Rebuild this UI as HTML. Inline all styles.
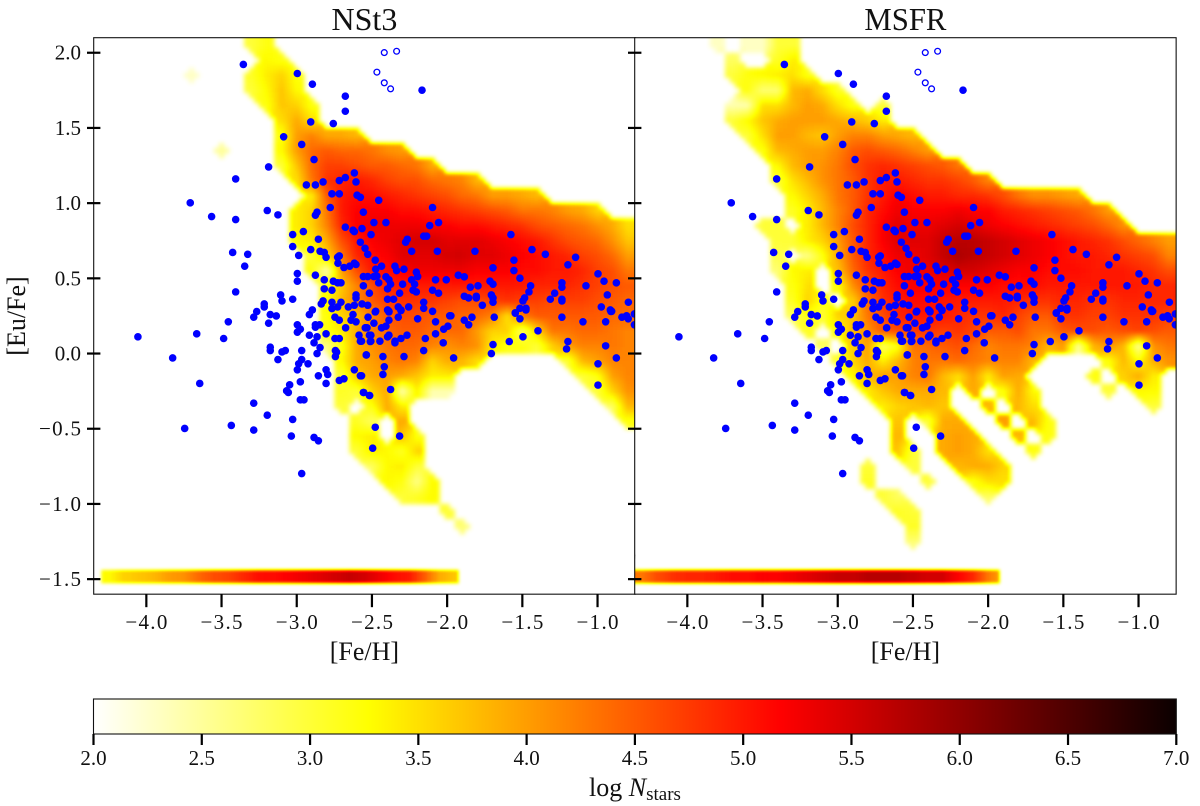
<!DOCTYPE html>
<html lang="en">
<head>
<meta charset="utf-8">
<title>NSt3 and MSFR [Eu/Fe] vs [Fe/H]</title>
<style>
html,body{margin:0;padding:0;background:#fff;width:1200px;height:806px;overflow:hidden}
svg{display:block}
text{font-family:"Liberation Serif",serif;fill:#111}
</style>
</head>
<body>
<svg id="chart" xmlns="http://www.w3.org/2000/svg" width="1200" height="806" viewBox="0 0 1200 806">
<defs id="defs"></defs>
</svg>
<script>
// ---------- tick labels ----------
const xTicks = [-4.0, -3.5, -3.0, -2.5, -2.0, -1.5, -1.0];
const yTicks = [2.0, 1.5, 1.0, 0.5, 0.0, -0.5, -1.0, -1.5];
const colorTicks = [2.0, 2.5, 3.0, 3.5, 4.0, 4.5, 5.0, 5.5, 6.0, 6.5, 7.0];
const panelNames = ["NSt3", "MSFR"];

// ---------- observed stars: [Fe/H], [Eu/Fe] ----------
const openStars = [[-2.418,2.001],[-2.336,2.010],[-2.467,1.871],[-2.418,1.800],[-2.376,1.760]];
const stars = [
[-3.355,1.922],[-2.996,1.862],[-2.896,1.791],[-2.677,1.711],[-2.677,1.611],[-2.907,1.540],[-2.757,1.529],[-3.087,1.441],
[-2.967,1.390],[-2.885,1.290],[-3.187,1.241],[-3.406,1.161],[-2.617,1.201],[-2.677,1.170],[-2.606,1.141],[-2.717,1.150],
[-2.825,1.141],[-2.876,1.121],[-2.936,1.121],[-2.766,1.062],[-2.717,1.062],[-2.599,1.053],[-2.577,1.039],[-3.708,1.002],
[-2.777,0.971],[-2.557,0.940],[-3.196,0.951],[-3.125,0.922],[-2.865,0.940],[-2.876,0.920],[-3.566,0.911],[-3.406,0.891],
[-3.027,0.791],[-2.956,0.811],[-2.677,0.840],[-2.626,0.820],[-2.617,0.811],[-2.566,0.831],[-2.856,0.760],[-2.577,0.740],
[-3.027,0.711],[-2.907,0.691],[-2.546,0.700],[-2.528,0.660],[-2.845,0.680],[-2.817,0.672],[-2.805,0.640],[-2.987,0.652],
[-3.426,0.672],[-3.326,0.660],[-2.717,0.649],[-2.728,0.640],[-2.726,0.601],[-3.346,0.581],[-2.686,0.572],[-2.648,0.581],
[-2.617,0.601],[-2.606,0.592],[-2.996,0.532],[-2.876,0.521],[-2.996,0.481],[-2.817,0.490],[-2.757,0.481],[-2.728,0.470],
[-2.706,0.470],[-2.557,0.512],[-2.528,0.512],[-2.557,0.450],[-2.817,0.430],[-2.766,0.421],[-3.406,0.410],[-3.107,0.390],
[-3.098,0.350],[-3.027,0.361],[-2.606,0.390],[-2.606,0.370],[-2.517,0.401],[-2.825,0.350],[-2.837,0.330],[-2.766,0.341],
[-2.706,0.341],[-2.728,0.310],[-2.766,0.299],[-2.657,0.310],[-2.617,0.321],[-2.566,0.330],[-2.528,0.321],[-3.216,0.330],
[-3.216,0.310],[-3.266,0.279],[-3.176,0.259],[-3.136,0.250],[-3.286,0.242],[-2.896,0.290],[-2.916,0.259],[-2.746,0.242],
[-2.626,0.259],[-3.455,0.211],[-3.187,0.202],[-2.996,0.191],[-2.976,0.162],[-2.996,0.142],[-2.876,0.191],[-2.848,0.191],
[-2.876,0.175],[-2.805,0.131],[-2.865,0.111],[-2.916,0.122],[-4.056,0.111],[-3.665,0.131],[-3.486,0.100],[-2.885,0.071],
[-2.845,0.040],[-3.176,0.042],[-3.176,0.020],[-3.098,0.011],[-3.076,0.020],[-2.967,0.020],[-2.865,0.000],[-3.125,-0.040],
[-2.967,-0.040],[-2.987,-0.068],[-2.925,-0.068],[-2.996,-0.108],[-3.825,-0.029],[-2.743,0.020],[-2.735,0.009],[-2.743,-0.020],
[-2.746,0.100],[-2.717,0.100],[-2.717,0.222],[-2.675,0.171],[-2.639,0.222],[-2.606,0.211],[-2.544,0.171],[-2.586,0.122],
[-2.577,0.082],[-2.517,0.122],[-2.511,0.080],[-2.537,-0.009],[-2.805,-0.108],[-2.794,-0.139],[-2.856,-0.148],[-2.805,-0.199],
[-2.717,-0.179],[-2.686,-0.168],[-2.617,-0.108],[-2.577,-0.148],[-2.557,-0.259],[-2.517,-0.279],[-3.645,-0.199],[-2.976,-0.188],
[-3.047,-0.208],[-3.067,-0.248],[-3.056,-0.259],[-2.976,-0.308],[-2.952,-0.308],[-3.286,-0.330],[-3.196,-0.410],[-3.027,-0.438],
[-3.435,-0.478],[-3.745,-0.498],[-3.286,-0.509],[-3.036,-0.549],[-2.885,-0.558],[-2.856,-0.580],[-2.967,-0.798],[-2.495,-0.629],
[-2.478,0.277],[-2.526,0.242],[-2.387,0.277],[-2.307,0.286],[-2.487,0.202],[-2.387,0.222],[-2.325,0.242],[-2.407,0.182],
[-2.436,0.171],[-2.542,0.171],[-2.533,0.171],[-2.196,0.231],[-2.077,0.211],[-1.995,0.182],[-2.023,0.162],[-2.077,0.131],
[-2.145,0.100],[-2.267,0.122],[-2.307,0.100],[-2.387,0.122],[-2.396,0.111],[-2.447,0.082],[-2.347,0.082],[-2.347,0.071],
[-2.507,0.122],[-2.507,0.082],[-2.569,0.082],[-2.026,0.071],[-2.156,0.020],[-2.538,-0.009],[-2.427,-0.020],[-2.287,-0.020],
[-1.957,-0.029],[-2.418,-0.088],[-2.427,-0.139],[-2.569,-0.148],[-2.376,-0.239],[-2.555,-0.259],[-2.515,-0.279],[-2.478,-0.490],
[-2.316,-0.549],[-1.983,0.251],[-1.975,0.251],[-1.886,0.222],[-1.857,0.191],[-1.835,0.242],[-1.687,0.242],[-1.547,0.271],
[-1.476,0.290],[-1.516,0.231],[-1.396,0.151],[-1.587,0.080],[-1.496,0.111],[-1.695,0.060],[-1.706,0.000],[-1.237,0.242],
[-1.097,0.211],[-0.946,0.211],[-1.197,0.080],[-1.206,0.031],[-0.946,0.051],[-0.875,-0.029],[-0.997,-0.068],[-0.997,-0.210],
[-0.796,0.231],[-0.807,0.251],[-0.838,0.242],[-0.911,0.280],[-0.755,0.191],[-2.167,1.751],[-2.455,1.019],[-2.097,0.971],
[-2.487,0.871],[-2.407,0.871],[-2.116,0.851],[-2.057,0.871],[-2.506,0.791],[-2.156,0.780],[-2.136,0.780],[-1.576,0.791],
[-2.265,0.760],[-2.276,0.740],[-2.236,0.680],[-2.065,0.680],[-1.815,0.680],[-1.436,0.691],[-1.347,0.660],[-2.478,0.621],
[-2.436,0.581],[-2.475,0.561],[-2.347,0.581],[-2.336,0.552],[-2.287,0.561],[-2.205,0.541],[-2.196,0.512],[-1.556,0.621],
[-1.556,0.552],[-1.695,0.570],[-1.146,0.640],[-1.197,0.590],[-1.516,0.501],[-0.997,0.530],[-0.957,0.481],[-0.875,0.470],
[-1.926,0.521],[-1.886,0.510],[-2.077,0.490],[-2.006,0.490],[-2.236,0.490],[-2.487,0.512],[-2.467,0.515],[-2.407,0.510],
[-2.387,0.490],[-2.455,0.470],[-2.376,0.461],[-2.216,0.461],[-2.296,0.461],[-1.715,0.481],[-1.695,0.461],[-1.846,0.441],
[-1.795,0.450],[-2.396,0.430],[-1.445,0.450],[-1.456,0.410],[-1.237,0.470],[-1.237,0.441],[-1.077,0.450],[-2.227,0.421],
[-2.205,0.410],[-2.097,0.421],[-2.057,0.401],[-2.316,0.401],[-1.285,0.401],[-0.935,0.390],[-1.706,0.390],[-1.695,0.370],
[-1.695,0.341],[-1.886,0.381],[-1.857,0.370],[-1.806,0.381],[-1.806,0.370],[-1.485,0.370],[-1.496,0.350],[-1.314,0.361],
[-1.237,0.361],[-1.237,0.350],[-2.396,0.361],[-2.356,0.361],[-0.795,0.341],[-1.766,0.321],[-2.256,0.310],[-2.325,0.310],
[-2.307,0.290],[-2.156,0.341],[-2.156,0.301],[-2.097,0.281],[-2.396,0.290],[-2.387,0.281],[-2.475,0.281],[-0.975,0.310],
[-0.915,0.290],[-0.906,0.281],[-1.547,0.268],[-1.516,0.301],[-1.476,0.301],[-0.755,0.263]
];

// ---------- heatmap bins (0.1 dex): column 0 is [Fe/H] = -4.30, row 0 is [Eu/Fe] = 2.05 ----------
const binFeH0 = -4.30, binEuFe0 = 2.05, binStep = 0.1, binCols = 36, binRows = 37;

// log N per cell; each row starts at the column given in the matching *Start array; 0 = empty
const nst3Start = [10,11,6,10,11,12,12,8,12,13,14,13,13,13,14,14,15,15,15,15,15,16,16,16,16,17,17,17,18,19,20,23,24];
const nst3Cells = [
[3.0,3.2],
[3.3,3.2],
[2.3,0,0,0,3.1,3.4,3.6,3.2],
[3.0,3.3,3.7,3.3],
[3.2,3.7,3.6,3.2],
[3.5,3.9,3.5],
[3.2,4.0,4.2,3.9,3.9,3.8],
[2.5,0,0,0,3.3,4.0,4.4,4.5,4.4,4.4,4.3,4.1,4.0],
[3.0,3.7,4.4,4.7,4.7,4.6,4.5,4.5,4.4,4.3,3.9],
[3.5,4.3,4.8,4.9,5.0,4.9,4.7,4.6,4.6,4.4,4.3,4.2,3.8],
[3.4,4.5,5.0,5.1,5.1,5.0,4.9,4.8,4.7,4.6,4.4,4.3,4.0,4.0,3.9,3.8],
[3.4,3.6,4.3,5.0,5.2,5.2,5.2,5.1,5.1,5.0,4.9,4.8,4.7,4.6,4.5,4.3,4.3,4.2,4.0,3.9,3.6],
[3.4,3.6,4.2,4.9,5.2,5.3,5.3,5.3,5.3,5.2,5.2,5.1,5.1,5.0,4.9,4.8,4.6,4.5,4.4,4.3,4.1,3.9,3.5],
[3.3,3.4,3.9,4.6,5.0,5.2,5.3,5.4,5.5,5.5,5.4,5.4,5.4,5.3,5.2,5.1,5.0,4.8,4.6,4.5,4.4,4.1,3.7],
[3.0,3.6,4.3,4.9,5.1,5.2,5.4,5.4,5.4,5.5,5.5,5.4,5.4,5.3,5.2,5.1,5.0,4.9,4.7,4.6,4.4,4.0],
[3.2,2.4,4.0,4.6,5.0,5.1,5.2,5.3,5.3,5.3,5.3,5.2,5.2,5.2,5.1,5.1,5.0,5.0,4.9,4.7,4.6,4.3],
[3.2,3.7,4.2,4.6,4.9,5.0,5.0,5.0,5.0,5.0,5.0,5.0,5.0,5.0,4.9,4.9,4.9,4.8,4.7,4.6,4.5],
[3.3,3.8,4.2,4.5,4.7,4.8,4.8,4.8,4.7,4.6,4.6,4.7,4.8,4.7,4.7,4.6,4.7,4.7,4.6,4.5,4.4],
[3.2,3.6,3.8,4.2,4.5,4.6,4.6,4.5,4.5,4.4,4.4,4.2,3.5,4.3,4.5,4.5,4.5,4.5,4.5,4.4,4.4],
[3.2,3.4,3.9,4.2,4.4,4.5,4.5,4.4,4.4,4.4,4.0,3.6,3.6,2.8,3.6,4.3,4.3,4.4,4.4,4.3,4.2],
[2.6,3.2,3.9,4.1,4.3,4.4,4.4,4.2,4.1,4.2,4.1,3.4,3.2,3.2,3.0,3.6,4.0,4.2,4.2,4.3,4.2],
[3.3,3.9,4.0,4.2,4.3,4.2,3.6,3.9,3.8,3.5,0,0,0,0,0,3.0,3.8,4.0,4.2,4.2],
[3.0,3.7,3.9,4.0,3.9,3.7,3.4,3.4,0,0,0,0,0,0,0,0,3.0,3.2,4.0,4.2],
[3.1,3.0,3.6,3.9,2.4,3.4,2.4,2.4,0,0,0,0,0,0,0,0,0,3.0,3.6,4.1],
[3.0,0,3.2,3.9,3.4,0,0,0,0,0,0,0,0,0,0,0,0,0,2.8,3.8],
[3.1,2.8,0,3.9,0,0,0,0,0,0,0,0,0,0,0,0,0,0,3.2],
[3.3,3.4,0,3.7,3.2],
[3.0,3.4,3.3,3.1,3.6],
[2.8,3.3,3.4,3.0],
[3.3,3.2,2.6,3.3],
[3.0,3.1,3.3],
[3.0],
[2.7]
];

const msfrStart = [5,6,6,7,6,6,7,8,9,9,10,10,8,9,9,9,10,10,10,11,12,13,14,15,16,17,17,17,15,15,16,17,18,18];
const msfrCells = [
[2.3,0,2.3,2.3,3.0,3.0],
[2.8,0,0,3.1,3.4],
[3.0,3.2,3.3,3.4,3.5,3.2],
[3.2,2.7,2.7,3.8,3.9,3.5,3.1],
[2.4,2.4,3.5,3.5,3.8,4.0,3.9,3.5,3.2,0,3.0],
[3.0,3.3,3.7,3.9,4.0,4.0,4.0,3.9,3.8,3.6,3.4],
[3.0,3.5,4.0,4.0,3.8,3.7,4.0,4.2,4.2,4.0,3.9,3.8],
[3.2,3.8,3.9,4.0,4.0,4.2,4.5,4.6,4.5,4.4,4.2,4.0],
[3.3,3.8,4.0,4.1,4.3,4.6,4.8,4.9,4.8,4.7,4.6,4.5,4.3],
[3.0,3.5,3.8,4.1,4.3,4.5,4.8,5.0,5.0,4.9,4.8,4.8,4.7,4.5,4.2],
[3.3,3.6,3.9,4.3,4.5,4.8,5.0,5.2,5.1,5.0,5.0,4.9,4.9,4.8,4.6,4.3,4.1,4.1,4.0,3.9],
[3.1,3.4,3.8,4.2,4.5,4.9,5.1,5.3,5.2,5.2,5.2,5.3,5.2,5.2,5.0,4.9,4.8,4.7,4.6,4.5,4.3,4.0],
[3.0,3.0,0,3.4,3.8,4.2,4.6,4.9,5.2,5.4,5.3,5.3,5.4,5.5,5.4,5.3,5.2,5.1,5.0,4.9,4.8,4.7,4.6,4.4,4.1],
[3.0,3.0,3.4,3.6,4.0,4.5,4.9,5.2,5.4,5.4,5.4,5.6,5.7,5.7,5.6,5.5,5.4,5.3,5.2,5.1,5.0,4.9,4.8,4.6,4.4,4.2,4.0],
[2.9,0,2.6,3.2,3.9,4.5,4.9,5.1,5.3,5.3,5.4,5.6,5.8,5.7,5.6,5.5,5.4,5.3,5.2,5.1,5.0,5.0,4.9,4.8,4.7,4.6,4.2],
[2.7,3.3,3.4,0,3.7,4.4,4.8,5.0,5.2,5.3,5.3,5.4,5.5,5.5,5.4,5.3,5.2,5.2,5.1,5.1,5.1,5.0,5.0,5.0,4.9,4.8,4.6],
[3.2,3.5,0,3.2,4.1,4.6,4.9,5.1,5.2,5.2,5.2,5.2,5.2,5.2,5.1,5.1,5.1,5.0,5.0,5.0,5.0,5.0,5.0,5.0,4.9,4.9],
[3.1,3.6,3.2,0,3.6,4.4,4.8,5.0,5.1,5.1,5.0,5.0,5.0,5.0,5.0,4.9,4.8,4.8,4.9,4.9,4.8,4.8,4.9,4.9,4.9,4.9],
[2.8,3.2,3.0,3.6,3.7,4.3,4.6,4.9,5.0,5.0,5.0,4.9,4.8,4.8,4.9,4.7,4.5,4.5,4.8,4.8,4.7,4.7,4.8,4.8,4.8,4.7],
[3.1,0,3.2,3.8,4.1,4.5,4.6,4.7,4.8,4.7,4.8,4.7,4.5,4.5,4.6,4.3,4.3,4.5,4.6,4.6,4.5,4.6,4.7,4.6,4.5],
[2.8,0,3.6,4.0,2.8,3.2,4.3,4.4,4.5,4.6,4.4,4.2,4.3,4.3,4.2,3.8,4.0,2.5,3.8,4.1,3.8,2.5,4.1,4.3],
[3.0,3.6,3.9,3.4,3.8,4.2,4.3,4.3,4.4,4.3,4.2,4.2,4.2,3.8,0,0,0,0,3.2,3.8,3.3,3.9,4.1],
[3.3,3.8,4.0,4.0,4.2,4.3,3.8,3.5,4.0,3.4,4.0,3.9,0,0,0,0,3.2,0,3.6,3.9,3.4],
[3.4,3.7,3.9,3.9,3.9,3.8,0,3.9,0,3.2,3.9,3.3,0,0,0,0,3.0,0,3.3,3.3],
[3.4,3.6,3.7,3.8,3.7,0,0,3.8,0,3.8,3.5,0,0,0,0,0,0,0,3.0],
[3.7,0,3.0,3.9,3.9,0,0,4.0,0,3.8,3.2],
[3.8,0,0,3.9,4.0,3.9,0,0,3.8,0,3.2],
[3.7,3.0,0,3.9,4.0,3.9,3.5,0,0,3.2],
[3.0,0,0,3.0,0,0,3.8,3.9,3.9,3.6],
[3.1,0,0,0,3.0,0,0,3.2,3.5,3.5],
[3.0,2.8,0,0,0,0,0,2.8],
[3.1,3.0],
[3.1],
[2.7]
];

// bottom strip of stars with no europium: values along [Fe/H]
const bandEuFe = -1.483, bandThickness = 0.09, bandStop = -1.925;
const nst3BandStart = -4.30;
const nst3Band = [3.3,3.6,3.7,3.8,4.0,4.1,4.4,4.6,4.7,4.9,5.1,5.1,5.2,5.3,5.4,5.5,5.6,5.5,5.3,5.1,5.0,4.5,3.9,3.7];
const msfrBandStart = -4.35;
const msfrBand = [4.3,4.6,4.8,4.9,4.9,5.0,5.1,5.1,5.2,5.2,5.3,5.4,5.5,5.6,5.6,5.7,5.7,5.7,5.6,5.5,5.5,5.2,4.9,4.3,3.9];

// ---------- axes ----------
const SVGNS = "http://www.w3.org/2000/svg";
const chart = document.getElementById("chart");
const defs = document.getElementById("defs");
const scale = 150.4;
const xMin = -4.35, xMax = -0.75, yMax = 2.1, yMin = -1.6;
const panelTop = 37.7, panelBottom = panelTop + (yMax - yMin) * scale;
const panelWidth = (xMax - xMin) * scale;
const panelLefts = [93.7, 634.7];
const barLeft = 93.5, barRight = 1176.3, barTop = 699, barBottom = 734, cMin = 2, cMax = 7;

function xAxis(left, feH) { return left + (feH - xMin) * scale; }
function yAxis(euFe) { return panelTop + (yMax - euFe) * scale; }
function cAxis(v) { return barLeft + (v - cMin) / (cMax - cMin) * (barRight - barLeft); }
function grayOf(v) {
  const g = Math.max(0, Math.min(1, (v - cMin) / (cMax - cMin)));
  const c = Math.round(g * 255);
  return "rgb(" + c + "," + c + "," + c + ")";
}
function hotR(g) {
  const t = 1 - g;
  const cl = function (a) { return Math.max(0, Math.min(1, a)); };
  return [cl(0.0416 + t / 0.365 * 0.9584), cl((t - 0.365) / 0.381), cl((t - 0.746) / 0.254)];
}
function el(tag, attrs, parent) {
  const e = document.createElementNS(SVGNS, tag);
  for (const k in attrs) e.setAttribute(k, attrs[k]);
  (parent || chart).appendChild(e);
  return e;
}
function fmt(v) { return (v < 0 ? "\u2212" : "") + Math.abs(v).toFixed(1); }

// colormap filter: gray encodes log N, blur interpolates it, table maps it to hot_r
function makeFilter(id, sd) {
  const f = el("filter", { id: id, "color-interpolation-filters": "sRGB", x: "0", y: "0", width: "1", height: "1" }, defs);
  el("feGaussianBlur", { stdDeviation: sd }, f);
  const ct = el("feComponentTransfer", {}, f);
  const r = [], g = [], b = [];
  for (let k = 0; k <= 128; k++) { const c = hotR(k / 128); r.push(c[0].toFixed(4)); g.push(c[1].toFixed(4)); b.push(c[2].toFixed(4)); }
  el("feFuncR", { type: "table", tableValues: r.join(" ") }, ct);
  el("feFuncG", { type: "table", tableValues: g.join(" ") }, ct);
  el("feFuncB", { type: "table", tableValues: b.join(" ") }, ct);
}
makeFilter("heat-blur", 2.4);
makeFilter("band-blur", 1.6);

function buildGrid(starts, cells) {
  const grid = [];
  for (let j = 0; j < binRows; j++) {
    const row = new Array(binCols).fill(0);
    (cells[j] || []).forEach(function (v, n) { row[starts[j] + n] = v; });
    grid.push(row);
  }
  return grid;
}
// sample the grid between bin centres, averaging only over non-empty bins
function sample(grid, u, v) {
  const i0 = Math.floor(u), j0 = Math.floor(v), fx = u - i0, fy = v - j0;
  let occ = 0, sum = 0;
  [[0, 0, (1 - fx) * (1 - fy)], [1, 0, fx * (1 - fy)], [0, 1, (1 - fx) * fy], [1, 1, fx * fy]].forEach(function (q) {
    const ii = Math.max(0, Math.min(binCols - 1, i0 + q[0]));
    const jj = Math.max(0, Math.min(binRows - 1, j0 + q[1]));
    const val = grid[jj][ii];
    if (val > 0) { occ += q[2]; sum += q[2] * val; }
  });
  return occ >= 0.5 ? sum / occ : 0;
}

function drawPanel(p, starts, cells, bandStart, band) {
  const left = panelLefts[p];
  const sub = 3;
  const clip = el("clipPath", { id: "clip-" + p }, defs);
  el("rect", { x: left, y: panelTop, width: panelWidth, height: panelBottom - panelTop }, clip);

  const holder = el("g", { "clip-path": "url(#clip-" + p + ")" });
  
  

  const heat = el("g", { filter: "url(#heat-blur)" }, holder);
  
  
  el("rect", { x: left - 20, y: panelTop - 20, width: panelWidth + 40, height: 540, fill: "#000" }, heat);

  const grid = buildGrid(starts, cells);
  for (let j = 0; j < binRows; j++) {
    for (let i = 0; i < binCols; i++) {
      for (let a = 0; a < sub; a++) {
        for (let b = 0; b < sub; b++) {
          const v = sample(grid, i + (a + 0.5) / sub - 0.5, j + (b + 0.5) / sub - 0.5);
          if (!v) continue;
          const x0 = xAxis(left, binFeH0 + binStep * (i - 0.5 + a / sub));
          const y0 = yAxis(binEuFe0 - binStep * (j - 0.5 + b / sub));
          const size = binStep * scale / sub + 0.3;
          const extraW = (i === binCols - 1 && a === sub - 1) ? 14 : 0;
          const extraH = (j === 0 && b === 0) ? 14 : 0;
          const cell = el("rect", { x: x0.toFixed(2), y: (y0 - extraH).toFixed(2), width: (size + extraW).toFixed(2), height: (size + extraH).toFixed(2), fill: grayOf(v) }, heat);
          
          
        }
      }
    }
  }

  const bandG = el("g", { filter: "url(#band-blur)" }, holder);
  
  
  const bandY = yAxis(bandEuFe + bandThickness / 2);
  el("rect", { x: left - 20, y: 556, width: panelWidth + 40, height: 50, fill: "#000" }, bandG);
  band.forEach(function (v, n) {
    for (let a = 0; a < sub; a++) {
      const f = (a + 0.5) / sub - 0.5;
      const other = band[Math.max(0, Math.min(band.length - 1, n + (f < 0 ? -1 : 1)))];
      const val = v + (other - v) * Math.abs(f);
      const s = bandStart + binStep * (n + a / sub);
      const e = Math.min(s + binStep / sub, bandStop);
      if (e <= s) continue;
      const x0 = xAxis(left, s) - (n === 0 && a === 0 && bandStart <= xMin ? 12 : 0);
      const cell = el("rect", { x: x0.toFixed(2), y: bandY.toFixed(2), width: (xAxis(left, e) - x0 + 0.3).toFixed(2), height: (bandThickness * scale).toFixed(2), fill: grayOf(val) }, bandG);
      
      
    }
  });

  stars.forEach(function (s) {
    const dot = el("circle", { cx: xAxis(left, s[0]).toFixed(2), cy: yAxis(s[1]).toFixed(2), r: 3.8, fill: "#0000ff" }, holder);
    
    
  });
  openStars.forEach(function (s) {
    const dot = el("circle", { cx: xAxis(left, s[0]).toFixed(2), cy: yAxis(s[1]).toFixed(2), r: 2.9, fill: "#fff", stroke: "#0000ff", "stroke-width": 1.3 }, holder);
    
    
  });

  const frame = el("rect", { x: left, y: panelTop, width: panelWidth, height: panelBottom - panelTop, fill: "none", stroke: "#111", "stroke-width": 1.1 });
  
  

  const title = el("text", { x: left + panelWidth / 2, y: 30, "text-anchor": "middle", "font-size": 32 });
  if (p === 1) { title.setAttribute("textLength", 82); title.setAttribute("lengthAdjust", "spacingAndGlyphs"); }
  title.textContent = panelNames[p];
  
  

  xTicks.forEach(function (t) {
    const x = xAxis(left, t);
    const tick = el("line", { x1: x, x2: x, y1: panelBottom, y2: panelBottom + 13, stroke: "#000", "stroke-width": 2.2 });
    
    
    const lab = el("text", { x: x, y: 629, "text-anchor": "middle", "font-size": 21, textLength: 42, lengthAdjust: "spacing" });
    lab.textContent = fmt(t);
    
    
  });
  yTicks.forEach(function (t) {
    const y = yAxis(t);
    const tick = el("line", { x1: left - 6.7, x2: left + 6.7, y1: y, y2: y, stroke: "#000", "stroke-width": 2.2 });
    
    
    if (p === 0) {
      const lab = el("text", { x: 81, y: y + 7, "text-anchor": "end", "font-size": 21 });
      if (t < 0) { lab.setAttribute("textLength", 42); lab.setAttribute("lengthAdjust", "spacing"); }
      lab.textContent = fmt(t);
      
      
    }
  });
  const xt = el("text", { x: left + panelWidth / 2, y: 660, "text-anchor": "middle", "font-size": 26 });
  xt.textContent = "[Fe/H]";
  
  
}

drawPanel(0, nst3Start, nst3Cells, nst3BandStart, nst3Band);
drawPanel(1, msfrStart, msfrCells, msfrBandStart, msfrBand);

const yt = el("text", { x: 0, y: 0, transform: "translate(25 316) rotate(-90)", "text-anchor": "middle", "font-size": 26 });
yt.textContent = "[Eu/Fe]";



// ---------- colorbar ----------
const grad = el("linearGradient", { id: "hot-r", x1: "0", x2: "1", y1: "0", y2: "0" }, defs);
[0, 0.254, 0.635, 1].forEach(function (g) {
  const c = hotR(g);
  el("stop", { offset: g, "stop-color": "rgb(" + c.map(function (a) { return Math.round(a * 255); }).join(",") + ")" }, grad);
});
const bar = el("rect", { x: barLeft, y: barTop, width: barRight - barLeft, height: barBottom - barTop, fill: "url(#hot-r)", stroke: "#111", "stroke-width": 1.1 });


colorTicks.forEach(function (t) {
  const x = cAxis(t);
  const tick = el("line", { x1: x, x2: x, y1: barBottom, y2: barBottom + 11, stroke: "#000", "stroke-width": 2.2 });
  
  
  const lab = el("text", { x: x, y: 765, "text-anchor": "middle", "font-size": 21 });
  lab.textContent = fmt(t);
  
  
});
const cbTitle = el("text", { x: 635, y: 796, "text-anchor": "middle", "font-size": 26 });


const t1 = el("tspan", {}, cbTitle); t1.textContent = "log ";
const t2 = el("tspan", { "font-style": "italic" }, cbTitle); t2.textContent = "N";
const t3 = el("tspan", { "font-size": 19, dy: 4 }, cbTitle); t3.textContent = "stars";
</script>
</body>
</html>
